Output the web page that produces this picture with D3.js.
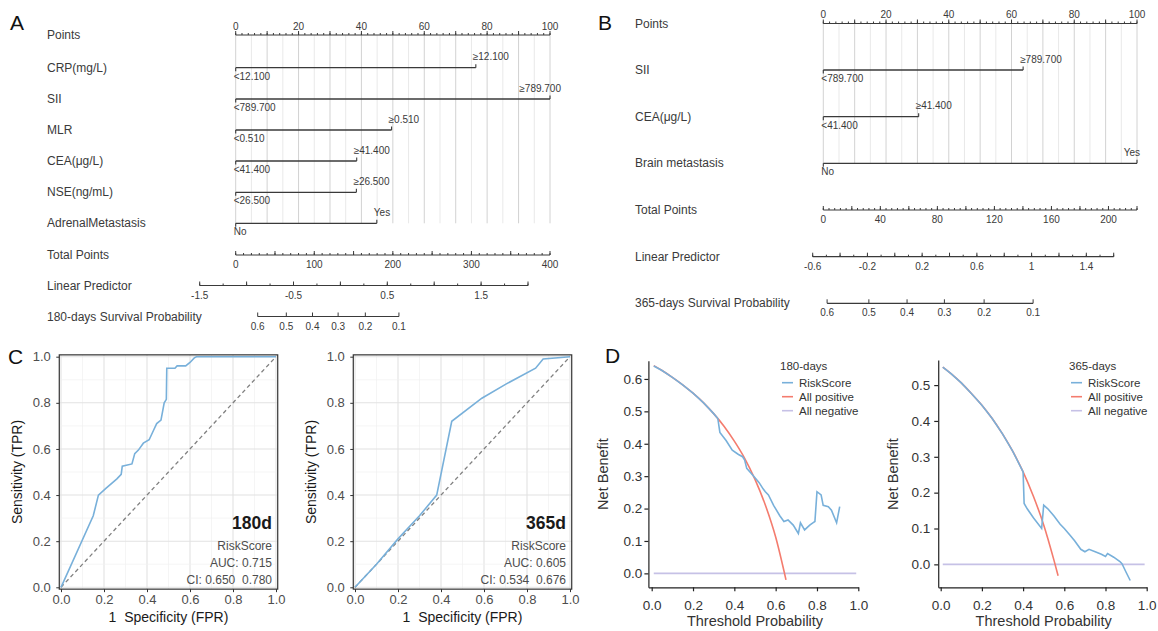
<!DOCTYPE html>
<html>
<head>
<meta charset="utf-8">
<script src="https://cdn.jsdelivr.net/npm/d3@7"></script>
<style>
body{margin:0;background:#fff}
svg{display:block;font-family:"Liberation Sans",Arial,Helvetica,sans-serif}
text{white-space:pre}
</style>
</head>
<body>
<svg id="fig" width="1158" height="631"></svg>
<script>
// ---- nomogram A (180 days) ----
var nomoA_vars = ["CRP(mg/L)", "SII", "MLR", "CEA(μg/L)", "NSE(ng/mL)", "AdrenalMetastasis"];
var nomoA_low = ["<12.100", "<789.700", "<0.510", "<41.400", "<26.500", "No"];
var nomoA_high = ["≥12.100", "≥789.700", "≥0.510", "≥41.400", "≥26.500", "Yes"];
var nomoA_points = [76.4, 100, 49.6, 38.5, 38.4, 44.9];
var nomoA_pointTicks = [0, 20, 40, 60, 80, 100];
var nomoA_totalTicks = [0, 100, 200, 300, 400];
var nomoA_lpTicks = [-1.5, -0.5, 0.5, 1.5];
var nomoA_survTicks = [0.6, 0.5, 0.4, 0.3, 0.2, 0.1];

// ---- nomogram B (365 days) ----
var nomoB_vars = ["SII", "CEA(μg/L)", "Brain metastasis"];
var nomoB_low = ["<789.700", "<41.400", "No"];
var nomoB_high = ["≥789.700", "≥41.400", "Yes"];
var nomoB_points = [63.7, 30.4, 100];
var nomoB_pointTicks = [0, 20, 40, 60, 80, 100];
var nomoB_totalTicks = [0, 40, 80, 120, 160, 200];
var nomoB_lpTicks = [-0.6, -0.2, 0.2, 0.6, 1, 1.4];
var nomoB_survTicks = [0.6, 0.5, 0.4, 0.3, 0.2, 0.1];

// ---- ROC curves ----
var roc180_fpr = [0, 0.15, 0.174, 0.21, 0.26, 0.28, 0.285, 0.33, 0.343, 0.36, 0.383, 0.41, 0.43, 0.445, 0.465, 0.475, 0.48, 0.49, 0.492, 0.50, 0.53, 0.54, 0.58, 0.60, 0.62, 0.63, 1.0];
var roc180_tpr = [0, 0.31, 0.40, 0.43, 0.47, 0.49, 0.525, 0.535, 0.58, 0.595, 0.625, 0.64, 0.68, 0.71, 0.725, 0.775, 0.80, 0.815, 0.95, 0.95, 0.95, 0.96, 0.96, 0.975, 0.995, 1.0, 1.0];
var roc365_fpr = [0, 0.1, 0.2, 0.3, 0.38, 0.45, 0.59, 0.7, 0.84, 0.875, 1];
var roc365_tpr = [0, 0.1, 0.21, 0.31, 0.40, 0.72, 0.82, 0.88, 0.95, 0.99, 1];
var rocTicks = [0, 0.2, 0.4, 0.6, 0.8, 1.0];

// ---- decision curves ----
var dca180_rs_x = [0.01, 0.05, 0.1, 0.15, 0.2, 0.25, 0.3, 0.32, 0.33, 0.36, 0.39, 0.42, 0.44, 0.45, 0.46, 0.48, 0.5, 0.52, 0.54, 0.55, 0.565, 0.59, 0.62, 0.64, 0.66, 0.685, 0.71, 0.72, 0.74, 0.765, 0.78, 0.79, 0.80, 0.82, 0.83, 0.855, 0.87, 0.895, 0.91];
var dca180_rs_y = [0.64, 0.626, 0.605, 0.582, 0.556, 0.527, 0.493, 0.478, 0.435, 0.41, 0.38, 0.367, 0.36, 0.35, 0.324, 0.31, 0.295, 0.28, 0.26, 0.252, 0.242, 0.21, 0.178, 0.16, 0.165, 0.149, 0.123, 0.156, 0.134, 0.149, 0.156, 0.16, 0.252, 0.242, 0.21, 0.206, 0.195, 0.156, 0.206];
var dca180_all_x = [0.01, 0.05, 0.1, 0.15, 0.2, 0.25, 0.3, 0.35, 0.4, 0.45, 0.5, 0.55, 0.6, 0.65];
var dca180_all_y = [0.641, 0.626, 0.605, 0.582, 0.556, 0.527, 0.493, 0.454, 0.408, 0.355, 0.29, 0.211, 0.112, -0.02];
var dca365_rs_x = [0.01, 0.05, 0.1, 0.15, 0.2, 0.25, 0.3, 0.35, 0.4, 0.405, 0.42, 0.45, 0.49, 0.5, 0.52, 0.55, 0.58, 0.6, 0.63, 0.65, 0.68, 0.7, 0.72, 0.75, 0.78, 0.8, 0.81, 0.84, 0.87, 0.88, 0.9, 0.92];
var dca365_rs_y = [0.55, 0.532, 0.506, 0.476, 0.444, 0.407, 0.364, 0.315, 0.258, 0.17, 0.155, 0.13, 0.1, 0.165, 0.155, 0.135, 0.112, 0.1, 0.08, 0.066, 0.042, 0.035, 0.042, 0.035, 0.028, 0.022, 0.03, 0.02, 0.008, 0.002, -0.022, -0.045];
var dca365_all_x = [0.01, 0.05, 0.1, 0.15, 0.2, 0.25, 0.3, 0.35, 0.4, 0.45, 0.5, 0.55, 0.57];
var dca365_all_y = [0.55, 0.532, 0.506, 0.476, 0.444, 0.407, 0.364, 0.315, 0.258, 0.19, 0.11, 0.011, -0.032];
var dcaNone_x = [0.01, 0.99];
var dcaNone_y = [0, 0];
var dcaLegend = ["RiskScore", "All positive", "All negative"];
var dcaColors = ["#78b0da", "#f47c6e", "#c6c1e6"];

var svg = d3.select("#fig");
var ink = "#3a3a3a";

// horizontal nomogram axis, ticks pointing up
function nomoAxis(g, pos, from, to, y, majors, minors, labels, above) {
  g.append("line").attr("x1", pos(from)).attr("x2", pos(to)).attr("y1", y).attr("y2", y)
    .attr("stroke", ink).attr("stroke-width", 1.2);
  g.selectAll(null).data(minors).enter().append("line")
    .attr("x1", pos).attr("x2", pos).attr("y1", y).attr("y2", y - 2)
    .attr("stroke", ink).attr("stroke-width", 1);
  g.selectAll(null).data(majors).enter().append("line")
    .attr("x1", pos).attr("x2", pos).attr("y1", y).attr("y2", y - 4)
    .attr("stroke", ink).attr("stroke-width", 1);
  g.selectAll(null).data(labels).enter().append("text")
    .attr("x", pos).attr("y", above ? y - 5.5 : y + 13)
    .attr("text-anchor", "middle").attr("font-size", 10).attr("fill", ink)
    .text(function (d) { return d; });
}

function nomogram(o) {
  var g = svg.append("g");
  var xp = d3.scaleLinear().domain([0, 100]).range([o.x0, o.x1]);
  var xt = d3.scaleLinear().domain([0, o.totalMax]).range([o.x0, o.x1]);
  var xl = d3.scaleLinear().domain(o.lpDomain).range(o.lpRange);
  // survival probability sits on the linear predictor scale
  var xs = function (s) { return xl(Math.log(-Math.log(s)) + o.base); };
  var lastY = o.rowY[o.rowY.length - 1];

  // vertical grid
  g.selectAll(null).data(d3.range(0, 100.1, 5)).enter().append("line")
    .attr("x1", xp).attr("x2", xp).attr("y1", o.pointsY).attr("y2", lastY)
    .attr("stroke", function (d) { return d % 10 === 0 ? "#d2d2d2" : "#e9e9e9"; })
    .attr("stroke-width", 1);

  // row labels
  var names = ["Points"].concat(o.vars).concat(["Total Points", "Linear Predictor", o.survName]);
  var ys = [o.pointsY].concat(o.rowY).concat([o.totalY, o.lpY, o.survY]);
  g.selectAll(null).data(names).enter().append("text")
    .attr("x", o.labelX).attr("y", function (d, i) { return ys[i] + 4; })
    .attr("font-size", 12).attr("fill", ink).text(function (d) { return d; });

  nomoAxis(g, xp, 0, 100, o.pointsY, d3.range(0, 101, 10), d3.range(0, 101, 2), o.pointTicks, true);

  // one bar per variable
  o.vars.forEach(function (v, i) {
    var y = o.rowY[i], xe = xp(o.points[i]);
    g.append("line").attr("x1", xp(0)).attr("x2", xe).attr("y1", y).attr("y2", y)
      .attr("stroke", ink).attr("stroke-width", 1.3);
    g.append("line").attr("x1", xp(0)).attr("x2", xp(0)).attr("y1", y).attr("y2", y + 3.5)
      .attr("stroke", ink).attr("stroke-width", 1.1);
    g.append("line").attr("x1", xe).attr("x2", xe).attr("y1", y).attr("y2", y - 3.5)
      .attr("stroke", ink).attr("stroke-width", 1.1);
    g.append("text").attr("x", xp(0) - 2).attr("y", y + 12)
      .attr("font-size", 10).attr("fill", ink).text(o.low[i]);
    var hi = g.append("text").attr("x", xe - 3).attr("y", y - 7.5)
      .attr("font-size", 10).attr("fill", ink).text(o.high[i]);
    var w = hi.node().getComputedTextLength();
    if (xe - 3 + w > o.rightLimit) hi.attr("x", o.rightLimit).attr("text-anchor", "end");
  });

  nomoAxis(g, xt, 0, o.totalMax, o.totalY, d3.range(0, o.totalMax + 0.1, o.totalMajor),
    d3.range(0, o.totalMax + 0.1, o.totalMinor), o.totalTicks, false);
  var lpMaj = d3.range(0, Math.round((o.lpDomain[1] - o.lpDomain[0]) / o.lpMajor) + 1)
    .map(function (k) { return o.lpDomain[0] + k * o.lpMajor; });
  var lpMin = d3.range(0, Math.round((o.lpDomain[1] - o.lpDomain[0]) / (o.lpMajor / 2)) + 1)
    .map(function (k) { return o.lpDomain[0] + k * o.lpMajor / 2; });
  nomoAxis(g, xl, o.lpDomain[0], o.lpDomain[1], o.lpY, lpMaj, lpMin, o.lpTicks, false);
  nomoAxis(g, xs, o.survTicks[0], o.survTicks[o.survTicks.length - 1], o.survY,
    o.survTicks, [], o.survTicks, false);
}

nomogram({
  vars: nomoA_vars, low: nomoA_low, high: nomoA_high, points: nomoA_points,
  pointTicks: nomoA_pointTicks, totalTicks: nomoA_totalTicks, lpTicks: nomoA_lpTicks, survTicks: nomoA_survTicks,
  survName: "180-days Survival Probability",
  labelX: 47, x0: 235.7, x1: 550, rightLimit: 561,
  pointsY: 35, rowY: [67.7, 99, 130, 161, 192.3, 223.3], totalY: 255, lpY: 285.5, survY: 316.5,
  totalMax: 400, totalMajor: 50, totalMinor: 10,
  lpDomain: [-1.5, 2.0], lpRange: [199.7, 528], lpMajor: 0.5, base: -0.21
});

nomogram({
  vars: nomoB_vars, low: nomoB_low, high: nomoB_high, points: nomoB_points,
  pointTicks: nomoB_pointTicks, totalTicks: nomoB_totalTicks, lpTicks: nomoB_lpTicks, survTicks: nomoB_survTicks,
  survName: "365-days Survival Probability",
  labelX: 635, x0: 823.3, x1: 1137, rightLimit: 1140,
  pointsY: 23.5, rowY: [70, 116.7, 163.3], totalY: 210, lpY: 256.7, survY: 303.3,
  totalMax: 220, totalMajor: 20, totalMinor: 4,
  lpDomain: [-0.6, 1.6], lpRange: [812.7, 1113.7], lpMajor: 0.2, base: 0.177
});

// ---- ROC panel ----
function rocPanel(o) {
  var g = svg.append("g");
  var pad = 0.008;
  var x = d3.scaleLinear().domain([0, 1]).range([o.x0, o.x1]);
  var y = d3.scaleLinear().domain([0, 1]).range([587.3, 356.7]);
  var grid = d3.range(0, 11).map(function (k) { return k / 10; });
  g.selectAll(null).data(grid).enter().append("line")
    .attr("x1", x).attr("x2", x).attr("y1", y(-pad)).attr("y2", y(1 + pad))
    .attr("stroke", function (d, i) { return i % 2 ? "#f0f0f0" : "#e2e2e2"; })
    .attr("stroke-width", function (d, i) { return i % 2 ? 0.7 : 1.1; });
  g.selectAll(null).data(grid).enter().append("line")
    .attr("y1", y).attr("y2", y).attr("x1", x(-pad)).attr("x2", x(1 + pad))
    .attr("stroke", function (d, i) { return i % 2 ? "#f0f0f0" : "#e2e2e2"; })
    .attr("stroke-width", function (d, i) { return i % 2 ? 0.7 : 1.1; });

  g.append("line").attr("x1", x(0)).attr("y1", y(0)).attr("x2", x(1)).attr("y2", y(1))
    .attr("stroke", "#808080").attr("stroke-width", 1.3).attr("stroke-dasharray", "4,3");
  var pts = o.fpr.map(function (d, i) { return [d, o.tpr[i]]; });
  g.append("path").datum(pts)
    .attr("d", d3.line().x(function (d) { return x(d[0]); }).y(function (d) { return y(d[1]); }))
    .attr("fill", "none").attr("stroke", "#78b0da").attr("stroke-width", 1.6);

  g.append("rect").attr("x", x(-pad)).attr("y", y(1 + pad))
    .attr("width", x(1 + pad) - x(-pad)).attr("height", y(-pad) - y(1 + pad))
    .attr("fill", "none").attr("stroke", "#333").attr("stroke-width", 1.2);

  var fmt = d3.format(".1f");
  var ax = g.append("g").attr("transform", "translate(0," + y(-pad) + ")")
    .call(d3.axisBottom(x).tickValues(rocTicks).tickFormat(fmt).tickSize(3).tickPadding(3));
  var ay = g.append("g").attr("transform", "translate(" + x(-pad) + ",0)")
    .call(d3.axisLeft(y).tickValues(rocTicks).tickFormat(fmt).tickSize(3).tickPadding(5.5));
  [ax, ay].forEach(function (a) {
    a.select(".domain").remove();
    a.attr("font-family", null).attr("font-size", 13);
    a.selectAll("line").attr("stroke", "#333");
    a.selectAll("text").attr("fill", "#4d4d4d");
  });

  g.append("text").attr("transform", "translate(" + o.yTitleX + ",472) rotate(-90)")
    .attr("text-anchor", "middle").attr("font-size", 14).attr("fill", "#1a1a1a").text("Sensitivity (TPR)");
  g.append("text").attr("x", (o.x0 + o.x1) / 2).attr("y", 622)
    .attr("text-anchor", "middle").attr("font-size", 14).attr("fill", "#1a1a1a").text("1  Specificity (FPR)");

  g.append("text").attr("x", o.textX).attr("y", 529).attr("text-anchor", "end")
    .attr("font-size", 17.5).attr("font-weight", "bold").attr("fill", "#1a1a1a").text(o.tag);
  var lines = ["RiskScore", "AUC: " + o.auc, "CI: " + o.ci];
  g.selectAll(null).data(lines).enter().append("text")
    .attr("x", o.textX).attr("y", function (d, i) { return 550 + i * 16.8; })
    .attr("text-anchor", "end").attr("font-size", 12).attr("fill", "#4d4d4d")
    .text(function (d) { return d; });
}

rocPanel({ x0: 61, x1: 276, fpr: roc180_fpr, tpr: roc180_tpr, tag: "180d", auc: "0.715", ci: "0.650  0.780", textX: 272, yTitleX: 22 });
rocPanel({ x0: 355, x1: 570, fpr: roc365_fpr, tpr: roc365_tpr, tag: "365d", auc: "0.605", ci: "0.534  0.676", textX: 566, yTitleX: 316 });

// ---- decision curve panel ----
function dcaPanel(o) {
  var g = svg.append("g");
  var per = (o.x1 - o.x0);
  var x = d3.scaleLinear().domain([o.xMin, 1]).range([o.x0 + o.xMin * per, o.x1]);
  var y = d3.scaleLinear().domain(o.yDomain).range([587.3, o.top]);

  var series = [
    { xs: dcaNone_x, ys: dcaNone_y, c: dcaColors[2], curve: d3.curveLinear },
    { xs: o.allX, ys: o.allY, c: dcaColors[1], curve: d3.curveMonotoneX },
    { xs: o.rsX, ys: o.rsY, c: dcaColors[0], curve: d3.curveLinear }
  ];
  series.forEach(function (s) {
    var pts = s.xs.map(function (d, i) { return [d, s.ys[i]]; });
    g.append("path").datum(pts)
      .attr("d", d3.line().curve(s.curve).x(function (d) { return x(d[0]); }).y(function (d) { return y(d[1]); }))
      .attr("fill", "none").attr("stroke", s.c).attr("stroke-width", 1.6);
  });

  var fmt = d3.format(".1f");
  var ax = g.append("g").attr("transform", "translate(0,587.3)")
    .call(d3.axisBottom(x).tickValues(rocTicks).tickFormat(fmt).tickSize(4).tickSizeOuter(0).tickPadding(9));
  var ay = g.append("g").attr("transform", "translate(" + x(o.xMin) + ",0)")
    .call(d3.axisLeft(y).tickValues(o.yTicks).tickFormat(fmt).tickSize(4).tickSizeOuter(0).tickPadding(o.yPad));
  [ax, ay].forEach(function (a) {
    a.attr("font-family", null).attr("font-size", 13.5);
    a.selectAll("line, path").attr("stroke", "#222").attr("stroke-width", 1.2);
    a.selectAll("text").attr("fill", "#333");
  });

  g.append("text").attr("transform", "translate(" + o.yTitleX + ",474) rotate(-90)")
    .attr("text-anchor", "middle").attr("font-size", 14.5).attr("fill", "#333").text("Net Benefit");
  g.append("text").attr("x", (o.x0 + o.x1) / 2).attr("y", 626)
    .attr("text-anchor", "middle").attr("font-size", 14.5).attr("fill", "#333").text("Threshold Probability");

  // legend
  g.append("text").attr("x", o.legX).attr("y", 370).attr("font-size", 11.5).attr("fill", "#333").text(o.legTitle);
  dcaLegend.forEach(function (name, i) {
    var ly = 382.7 + i * 14;
    g.append("line").attr("x1", o.legX + 2).attr("x2", o.legX + 13).attr("y1", ly).attr("y2", ly)
      .attr("stroke", dcaColors[i]).attr("stroke-width", 1.6);
    g.append("text").attr("x", o.legX + 19).attr("y", ly + 4)
      .attr("font-size", 11.5).attr("fill", "#333").text(name);
  });
}

dcaPanel({ x0: 651.7, x1: 858.3, xMin: -0.016, yDomain: [-0.043, 0.656], top: 360.8,
  yTicks: [0, 0.1, 0.2, 0.3, 0.4, 0.5, 0.6], yPad: 2, yTitleX: 608,
  rsX: dca180_rs_x, rsY: dca180_rs_y, allX: dca180_all_x, allY: dca180_all_y,
  legX: 780, legTitle: "180-days" });
dcaPanel({ x0: 940.7, x1: 1146.7, xMin: -0.012, yDomain: [-0.064, 0.57], top: 360,
  yTicks: [0, 0.1, 0.2, 0.3, 0.4, 0.5], yPad: 4, yTitleX: 898,
  rsX: dca365_rs_x, rsY: dca365_rs_y, allX: dca365_all_x, allY: dca365_all_y,
  legX: 1069, legTitle: "365-days" });

// panel letters
var letters = [["A", 10, 30], ["B", 598, 30], ["C", 8, 364], ["D", 605, 363]];
svg.selectAll(".letter").data(letters).enter().append("text").attr("class", "letter")
  .attr("x", function (d) { return d[1]; }).attr("y", function (d) { return d[2]; })
  .attr("font-size", 21).attr("fill", "#111").text(function (d) { return d[0]; });
</script>
</body>
</html>
